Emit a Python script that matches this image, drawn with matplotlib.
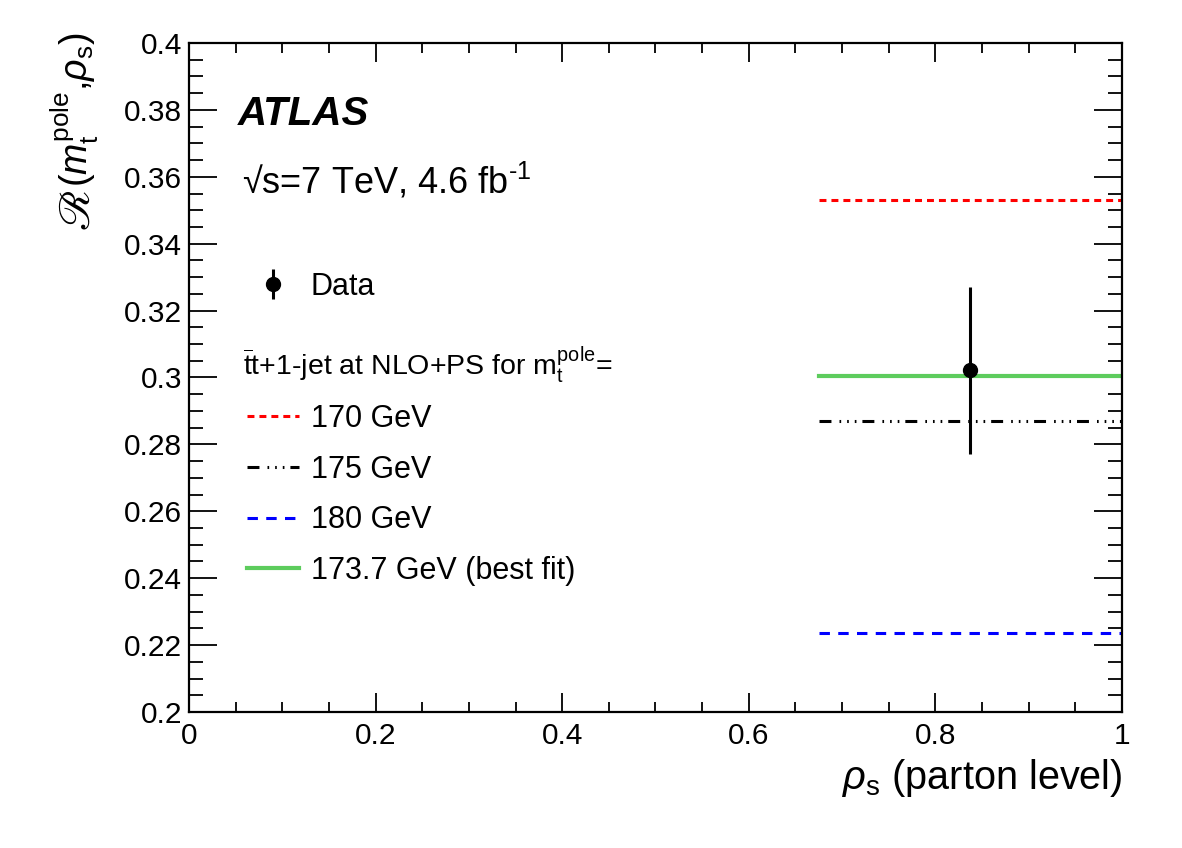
import matplotlib
matplotlib.use("Agg")
import matplotlib.pyplot as plt

# ---- data ----
bin_edges = [0.675, 1.0]
mass_labels = ["170 GeV", "175 GeV", "180 GeV", "173.7 GeV (best fit)"]
pred_values = [0.3530, 0.2870, 0.2235, 0.3003]
data_x = [0.8375]
data_y = [0.3021]
data_err = [0.0250]

plt.rcParams['font.family'] = ['Liberation Sans', 'STIXGeneral', 'DejaVu Sans']
plt.rcParams['mathtext.fontset'] = 'custom'
plt.rcParams['mathtext.rm'] = 'Liberation Sans'
plt.rcParams['mathtext.it'] = 'Liberation Sans:italic'
plt.rcParams['mathtext.bf'] = 'Liberation Sans:bold'
plt.rcParams['lines.scale_dashes'] = False

fig = plt.figure(figsize=(11.82, 8.48), dpi=100)
ax = fig.add_axes([0.1599, 0.1604, 0.9492 - 0.1599, 0.9493 - 0.1604])

styles = [
    dict(color='#FF0000', lw=2.2, dashes=(5, 3.6)),
    dict(color='black', lw=2.2, dashes=(8.6, 5.8, 1.2, 4.3, 1.2, 4.3, 1.2, 4.3)),
    dict(color='#0000FF', lw=2.2, dashes=(7.5, 6)),
    dict(color='#5DCC5D', lw=3.0),
]
handles = []
for v, lab, st in zip(pred_values, mass_labels, styles):
    h, = ax.plot(bin_edges, [v, v], label=lab, **st)
    handles.append(h)

eb = ax.errorbar(data_x, data_y, yerr=data_err, fmt='o', color='black',
                 ms=10, elinewidth=2.2, capsize=0, label='Data', zorder=5)

ax.set_xlim(0, 1)
ax.set_ylim(0.2, 0.4)
ax.set_xticks([0, 0.2, 0.4, 0.6, 0.8, 1.0])
ax.set_xticklabels(['0', '0.2', '0.4', '0.6', '0.8', '1'])
ax.set_yticks([0.2 + 0.02 * i for i in range(11)])
ax.set_yticklabels(['0.2', '0.22', '0.24', '0.26', '0.28', '0.3', '0.32',
                    '0.34', '0.36', '0.38', '0.4'])
ax.set_xticks([0.05 * i for i in range(21)], minor=True)
ax.set_yticks([0.2 + 0.005 * i for i in range(41)], minor=True)
ax.tick_params(which='both', direction='in', top=True, right=True,
               labelsize=21.5, width=1.3)
ax.tick_params(axis='y', which='major', length=20, pad=5)
ax.tick_params(axis='y', which='minor', length=10)
ax.tick_params(axis='x', which='major', length=14, pad=7)
ax.tick_params(axis='x', which='minor', length=7)
for s in ax.spines.values():
    s.set_linewidth(1.6)

ax.set_xlabel(r'$\rho_{\rm s}$ (parton level)', fontsize=28.5, loc='right')
ax.xaxis.set_label_coords(1.0, -0.068)

# y-axis title: script R (STIX) followed by the rest (sans)
ylab_rest = ax.text(-0.108, 1.015, r'($m_{\rm t}^{\rm pole}$,$\rho_{\rm s}$)',
                    transform=ax.transAxes, fontsize=27, rotation=90,
                    rotation_mode='anchor', ha='right', va='baseline')
ax.annotate('ℛ', xy=(-0.108, 0.0), xycoords=('axes fraction', ylab_rest),
            fontsize=32, family='STIXGeneral', rotation=90,
            rotation_mode='anchor', ha='right', va='baseline',
            annotation_clip=False)

ax.text(0.0525, 0.877, 'ATLAS', transform=ax.transAxes, fontsize=29,
        fontweight='bold', fontstyle='italic', va='baseline')
ax.text(0.057, 0.7743, '√s=7 TeV, 4.6 fb$^{\\text{-1}}$',
        transform=ax.transAxes, fontsize=26, va='baseline')
ax.text(0.0579, 0.5037, r'$\overline{\rm t}{\rm t}$+1-jet at NLO+PS for ${\rm m}_{\rm t}^{\rm pole}$=',
        transform=ax.transAxes, fontsize=20.5, va='baseline')

leg1 = ax.legend(handles=[eb], labels=['Data'], loc='upper left',
                 bbox_to_anchor=(0.062, 0.658), frameon=False, fontsize=22,
                 handlelength=1.7, handletextpad=0.39, borderpad=0,
                 borderaxespad=0)
ax.add_artist(leg1)
leg2 = ax.legend(handles=handles, labels=mass_labels, loc='upper left',
                 bbox_to_anchor=(0.062, 0.4607), frameon=False, fontsize=22,
                 handlelength=1.7, handletextpad=0.39, borderpad=0,
                 borderaxespad=0, labelspacing=0.68)

fig.savefig('out.png', dpi=100)
